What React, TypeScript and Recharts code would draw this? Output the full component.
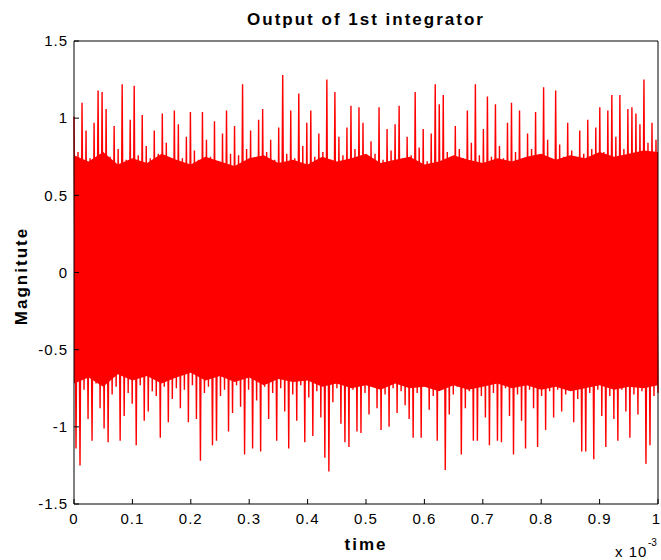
import React from 'react';
import { ComposedChart, Line, Area, XAxis, YAxis } from 'recharts';

// sample values of the integrator output, alternating spike tops / bottoms
const signal = [
  1.01, -1.14, 0.78, -1.25, 1.10, -0.76, 0.92, -0.95, 0.74, -1.09, 0.97, -0.72, 1.18, -0.88, 1.17, -1.01, 1.06, -1.10, 0.75, -0.79,
  0.95, -0.74, 0.80, -1.09, 1.22, -0.93, 0.73, -0.78, 0.99, -0.85, 1.21, -1.12, 0.76, -0.73, 1.02, -0.96, 0.82, -0.90, 0.74, -0.77,
  0.92, -0.80, 0.77, -1.07, 1.03, -0.74, 0.84, -0.97, 0.72, -0.82, 1.05, -0.75, 0.96, -0.88, 0.74, -0.76, 0.88, -0.97, 1.04, -0.73,
  0.79, -0.95, 0.73, -1.22, 1.04, -0.78, 0.86, -0.74, 0.75, -1.12, 0.98, -1.09, 0.72, -0.80, 0.90, -0.76, 1.05, -1.03, 0.77, -0.91,
  0.95, -0.73, 0.76, -0.87, 1.22, -1.18, 0.80, -0.76, 0.92, -1.14, 0.74, -0.83, 0.99, -1.16, 1.06, -0.74, 0.78, -0.95, 0.86, -0.78,
  0.73, -1.09, 0.94, -0.75, 1.28, -0.90, 0.77, -1.14, 1.05, -0.79, 0.74, -0.96, 1.16, -0.73, 0.82, -1.10, 0.97, -0.81, 1.05, -1.06,
  0.75, -0.77, 0.90, -0.94, 0.78, -1.20, 1.25, -1.29, 0.73, -0.84, 1.17, -0.75, 0.88, -0.98, 0.76, -1.10, 0.94, -1.13, 1.08, -0.76,
  0.80, -1.03, 1.07, -1.04, 0.97, -0.78, 0.74, -0.92, 0.85, -0.74, 0.77, -0.88, 1.07, -1.02, 0.73, -0.79, 0.93, -1.00, 0.79, -0.75,
  0.96, -0.91, 1.08, -0.77, 0.74, -0.86, 0.88, -0.95, 0.76, -1.07, 1.17, -0.78, 0.81, -1.07, 0.93, -0.74, 0.72, -0.89, 0.90, -0.80,
  1.22, -1.09, 1.09, -0.76, 1.15, -1.28, 0.78, -0.92, 0.73, -0.79, 0.95, -0.74, 0.80, -1.18, 0.74, -0.88, 1.05, -0.77, 0.84, -1.09,
  1.22, -1.09, 0.76, -0.80, 0.93, -0.94, 1.14, -1.12, 0.75, -0.78, 1.09, -1.09, 0.82, -1.10, 0.74, -0.75, 0.97, -0.93, 1.10, -1.18,
  0.78, -0.79, 1.05, -0.96, 0.74, -1.14, 0.90, -0.76, 0.80, -0.88, 1.04, -1.13, 0.75, -0.80, 1.20, -1.02, 0.86, -0.77, 0.73, -0.94,
  1.18, -0.76, 0.83, -0.90, 0.75, -0.79, 0.97, -0.74, 0.79, -0.97, 0.74, -0.82, 0.92, -1.16, 0.77, -1.16, 0.99, -0.78, 0.80, -1.21,
  0.94, -0.76, 1.07, -0.93, 0.78, -1.13, 1.05, -0.80, 1.15, -0.95, 0.88, -1.09, 1.15, -0.76, 0.80, -0.90, 1.06, -1.07, 1.07, -0.79,
  1.03, -0.92, 0.96, -0.77, 1.25, -1.24, 0.84, -1.12, 0.97, -0.80, 0.86, -0.78,
];

// dense core of the band (where the trace fills solid)
const coreTime = [
  0, 0.025, 0.05, 0.075, 0.1, 0.125, 0.15, 0.175, 0.2, 0.225, 0.25, 0.275, 0.3, 0.325, 0.35, 0.375, 0.4, 0.425, 0.45, 0.475,
  0.5, 0.525, 0.55, 0.575, 0.6, 0.625, 0.65, 0.675, 0.7, 0.725, 0.75, 0.775, 0.8, 0.825, 0.85, 0.875, 0.9, 0.925, 0.95, 0.975, 1,
];
const coreHigh = [
  0.76, 0.72, 0.78, 0.70, 0.74, 0.71, 0.77, 0.73, 0.70, 0.75, 0.72, 0.69, 0.74, 0.76, 0.71, 0.73, 0.70, 0.75, 0.72, 0.74,
  0.77, 0.71, 0.73, 0.75, 0.70, 0.72, 0.76, 0.73, 0.71, 0.74, 0.72, 0.75, 0.77, 0.73, 0.76, 0.74, 0.78, 0.75, 0.77, 0.79, 0.78,
];
const coreLow = [
  -0.72, -0.68, -0.74, -0.66, -0.70, -0.67, -0.72, -0.68, -0.65, -0.70, -0.67, -0.71, -0.68, -0.73, -0.69, -0.71, -0.70, -0.74, -0.72, -0.75,
  -0.73, -0.76, -0.72, -0.75, -0.74, -0.77, -0.73, -0.76, -0.74, -0.72, -0.75, -0.73, -0.76, -0.74, -0.77, -0.75, -0.73, -0.76, -0.74, -0.75, -0.73,
];

const xTicks = [0, 0.1, 0.2, 0.3, 0.4, 0.5, 0.6, 0.7, 0.8, 0.9, 1];
const yTicks = [-1.5, -1, -0.5, 0, 0.5, 1, 1.5];

const signalData = signal.map((v, i) => ({ t: i / (signal.length - 1), v }));
const coreData = coreTime.map((t, i) => ({ t, band: [coreLow[i], coreHigh[i]] }));

const font = '"Liberation Sans", Arial, Helvetica, sans-serif';
const tickStyle = { fill: '#000', fontSize: 15, fontFamily: font, letterSpacing: 1 };
const axisLine = { stroke: '#000', strokeWidth: 1 };
const tickLine = { stroke: '#000', strokeWidth: 1 };

// bottom tick label; the last one is kept inside the picture's right edge
const TimeTick = (props: any) => {
  const { x, y, payload } = props;
  const last = payload.value === xTicks[xTicks.length - 1];
  return (
    <text
      x={last ? 660 : x}
      y={y}
      dy="0.71em"
      textAnchor={last ? 'end' : 'middle'}
      fill="#000"
      fontSize={15}
      fontFamily={font}
      letterSpacing={last ? 0 : 1}
    >
      {String(payload.value)}
    </text>
  );
};

export default function App() {
  return (
    <div style={{ position: 'absolute', left: 0, top: 0, width: 661, height: 560, background: '#fff' }}>
      <ComposedChart
        width={661}
        height={560}
        margin={{ top: 40, right: 2, bottom: 26, left: 34 }}
      >
        <XAxis
          xAxisId="bottom"
          dataKey="t"
          type="number"
          domain={[0, 1]}
          ticks={xTicks}
          height={30}
          tickSize={-5}
          tickMargin={14}
          tick={<TimeTick />}
          axisLine={axisLine}
          tickLine={tickLine}
          interval={0}
        />
        <XAxis
          xAxisId="top"
          orientation="top"
          dataKey="t"
          type="number"
          domain={[0, 1]}
          ticks={xTicks}
          height={1}
          tickSize={-5}
          tick={false}
          axisLine={axisLine}
          tickLine={tickLine}
          interval={0}
        />
        <YAxis
          yAxisId="left"
          type="number"
          domain={[-1.5, 1.5]}
          ticks={yTicks}
          width={40}
          tickSize={-5}
          tickMargin={11}
          tick={tickStyle}
          axisLine={axisLine}
          tickLine={tickLine}
          interval={0}
        />
        <YAxis
          yAxisId="right"
          orientation="right"
          type="number"
          domain={[-1.5, 1.5]}
          ticks={yTicks}
          width={1}
          tickSize={-5}
          tick={false}
          axisLine={axisLine}
          tickLine={tickLine}
          interval={0}
        />
        <Area
          xAxisId="bottom"
          yAxisId="left"
          data={coreData}
          dataKey="band"
          type="linear"
          stroke="none"
          fill="#ff0000"
          fillOpacity={1}
          isAnimationActive={false}
        />
        <Line
          xAxisId="bottom"
          yAxisId="left"
          data={signalData}
          dataKey="v"
          type="linear"
          stroke="#ff0000"
          strokeWidth={1.4}
          dot={false}
          activeDot={false}
          isAnimationActive={false}
        />
      </ComposedChart>
      <svg
        width={661}
        height={560}
        style={{ position: 'absolute', left: 0, top: 0, pointerEvents: 'none' }}
        fontFamily={font}
      >
        <text x={366} y={25} textAnchor="middle" fontSize={17} fontWeight="bold" letterSpacing={2} fill="#000">
          Output of 1st integrator
        </text>
        <text
          x={27}
          y={276}
          transform="rotate(-90 27 276)"
          textAnchor="middle"
          fontSize={17}
          fontWeight="bold"
          letterSpacing={2}
          fill="#000"
        >
          Magnitute
        </text>
        <text x={366} y={550} textAnchor="middle" fontSize={17} fontWeight="bold" letterSpacing={2} fill="#000">
          time
        </text>
        <text x={615} y={557} fontSize={15} letterSpacing={1} fill="#000">
          x 10
        </text>
        <text x={648} y={546} fontSize={10} fill="#000">
          -3
        </text>
      </svg>
    </div>
  );
}
